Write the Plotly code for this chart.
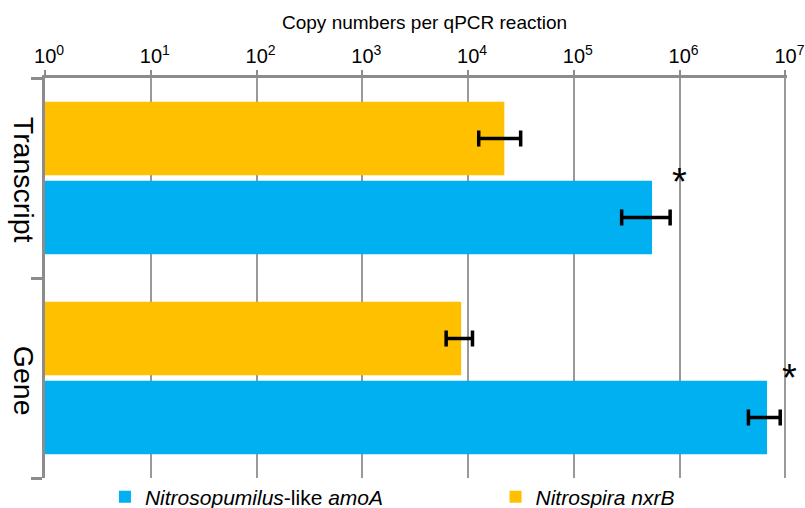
import numpy as np
import plotly.graph_objects as go

# ---- data ----
categories = ["Transcript", "Gene"]
amoA_values = [548000, 6700000]      # Nitrosopumilus-like amoA
amoA_errors = [265000, 2230000]
nxrB_values = [22000, 8600]          # Nitrospira nxrB
nxrB_errors = [9400, 2400]
amoA_significance = ["*", "*"]
series_names = ["<i>Nitrosopumilus</i>-like <i>amoA</i>", "<i>Nitrospira nxrB</i>"]
tick_values = [1, 10, 100, 1000, 10000, 100000, 1000000, 10000000]
tick_labels = ["10<sup>%d</sup>" % i for i in range(8)]
x_title = "Copy numbers per qPCR reaction"

BLUE = "#00B0F0"
ORANGE = "#FFC000"
GRAY = "#8c8c8c"
FONT = "Liberation Sans, Arial, sans-serif"

fig = go.Figure()
fig.add_trace(go.Bar(
    y=categories, x=amoA_values, orientation="h", name=series_names[0],
    marker=dict(color=BLUE, line=dict(width=0)), legend="legend",
    error_x=dict(type="data", array=amoA_errors, symmetric=True,
                 color="black", thickness=3.5, width=8),
))
fig.add_trace(go.Bar(
    y=categories, x=nxrB_values, orientation="h", name=series_names[1],
    marker=dict(color=ORANGE, line=dict(width=0)), legend="legend2",
    error_x=dict(type="data", array=nxrB_errors, symmetric=True,
                 color="black", thickness=3.5, width=8),
))

W, H = 805, 508
ml, mr, mt, mb = 44.5, 17.7, 78, 30

annotations = []
# significance stars
star_yshift = {"Transcript": -3.5, "Gene": 0.5}
for cat, v, e, s in zip(categories, amoA_values, amoA_errors, amoA_significance):
    annotations.append(dict(
        x=np.log10(v + e), y=cat, xref="x", yref="y", text=s, showarrow=False,
        xanchor="center", yanchor="middle", xshift=9, yshift=star_yshift[cat],
        font=dict(family=FONT, size=38, color="black")))
# category labels (rotated)
cat_yshift = {"Transcript": -2, "Gene": -3}
for cat in categories:
    annotations.append(dict(
        x=-0.028, y=cat, xref="paper", yref="y", text=cat, showarrow=False,
        textangle=90, xanchor="center", yanchor="middle", yshift=cat_yshift[cat],
        font=dict(family=FONT, size=28.5, color="black")))
# axis title
annotations.append(dict(
    x=0.511, y=1.14, xref="paper", yref="paper", text=x_title, showarrow=False,
    xanchor="center", yanchor="middle",
    font=dict(family=FONT, size=19, color="black")))

legend_common = dict(orientation="h", xanchor="left", yanchor="middle", y=-0.0475,
                     font=dict(family=FONT, size=21, color="black"),
                     bgcolor="rgba(0,0,0,0)", borderwidth=0)

fig.update_layout(
    width=W, height=H,
    margin=dict(l=ml, r=mr, t=mt, b=mb, autoexpand=False),
    paper_bgcolor="white", plot_bgcolor="white",
    barmode="group", bargap=0.209, bargroupgap=0.072,
    font=dict(family=FONT, color="black"),
    showlegend=True,
    legend=dict(x=0.0808, **legend_common),
    legend2=dict(x=0.6072, **legend_common),
    annotations=annotations,
)
fig.update_xaxes(
    type="log", range=[-0.0003, 7.015], side="top",
    tickvals=tick_values, ticktext=tick_labels,
    tickfont=dict(family=FONT, size=20, color="black"),
    showline=True, linecolor=GRAY, linewidth=3,
    ticks="outside", ticklen=5, tickwidth=2, tickcolor=GRAY,
    showgrid=True, gridcolor="#999999", gridwidth=1.5, zeroline=False,
    ticklabelshift=4, ticklabelstandoff=-1, ticklabeloverflow="allow",
)
fig.update_yaxes(
    type="category", categoryorder="array", categoryarray=["Gene", "Transcript"],
    range=[-0.5, 1.5], showticklabels=False,
    showline=True, linecolor=GRAY, linewidth=3,
    ticks="outside", tickson="boundaries", ticklen=11, tickwidth=3, tickcolor=GRAY,
    showgrid=False, zeroline=False,
)

fig.write_html("out.html", config={"displayModeBar": False},
               post_script="document.body.style.margin='0';")
